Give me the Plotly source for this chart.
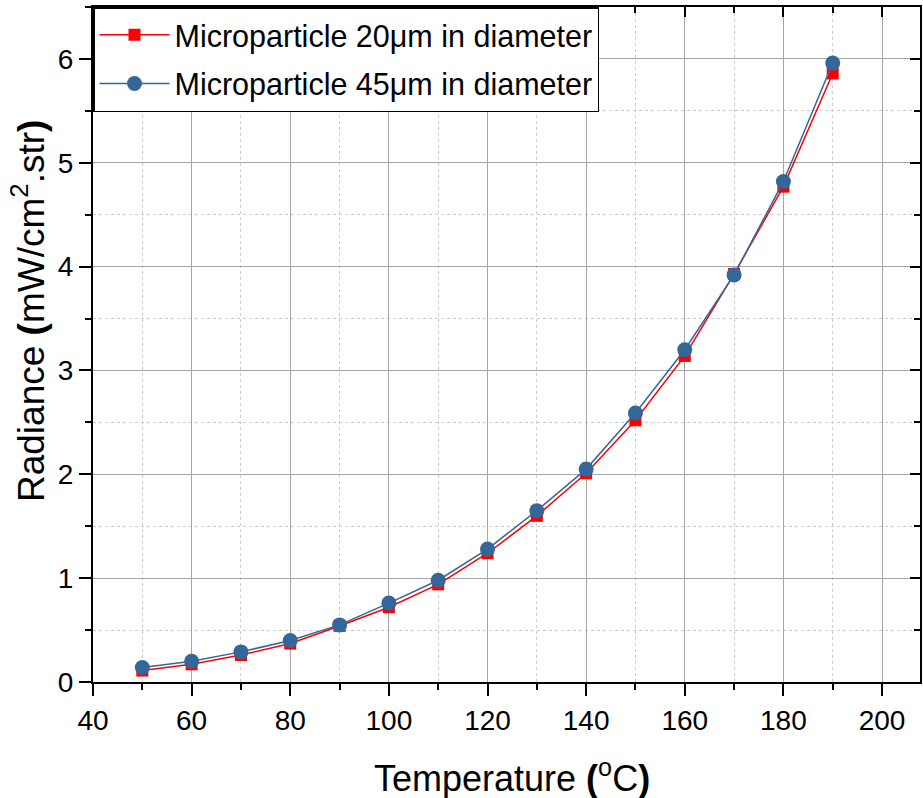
import plotly.graph_objects as go

temperature = [50, 60, 70, 80, 90, 100, 110, 120, 130, 140, 150, 160, 170, 180, 190]
radiance_20um = [0.11, 0.17, 0.26, 0.37, 0.54, 0.72, 0.94, 1.24, 1.60, 2.01, 2.52, 3.14, 3.93, 4.77, 5.86]
radiance_45um = [0.14, 0.20, 0.29, 0.40, 0.55, 0.76, 0.98, 1.28, 1.65, 2.05, 2.59, 3.20, 3.92, 4.82, 5.96]
name_20 = "Microparticle 20\u03bcm in diameter"
name_45 = "Microparticle 45\u03bcm in diameter"
x_title = "Temperature <b>(</b><sup>o</sup>C<b>)</b>"
y_title = "Radiance <b>(</b>mW/cm<sup>2</sup>.str<b>)</b>"

RED = "#ff0000"
BLUE = "#336699"
FONT = "Liberation Sans, Arial, sans-serif"

fig = go.Figure()
fig.add_trace(go.Scatter(x=temperature, y=radiance_20um, name=name_20, mode="lines+markers",
                         legendgroup="a",
                         line=dict(color=RED, width=1.5),
                         marker=dict(symbol="square", size=12, color=RED)))
fig.add_trace(go.Scatter(x=temperature, y=radiance_45um, name=name_45, mode="lines+markers",
                         legendgroup="b",
                         line=dict(color=BLUE, width=1.5),
                         marker=dict(symbol="circle", size=15, color=BLUE)))
# invisible trace for mirrored axes (top/right, inward ticks)
fig.add_trace(go.Scatter(x=temperature, y=radiance_45um, xaxis="x2", yaxis="y2", mode="markers",
                         marker=dict(opacity=0), showlegend=False, hoverinfo="skip"))

xr = [40, 207.7]
yr = [0, 6.5]
axis_common = dict(showline=True, linecolor="black", linewidth=2, zeroline=False, automargin=False,
                   tickfont=dict(family=FONT, size=28, color="black"),
                   ticks="outside", ticklen=12, tickwidth=2, tickcolor="black",
                   showgrid=True, gridcolor="#a6a6a6", gridwidth=1)

fig.update_layout(
    width=923, height=798,
    paper_bgcolor="white", plot_bgcolor="white",
    margin=dict(l=93, r=3, t=7, b=116),
    font=dict(family=FONT, color="black"),
    xaxis=dict(range=xr, dtick=20, tick0=0,
               minor=dict(dtick=10, ticks="outside", ticklen=6, tickwidth=2, tickcolor="black",
                          showgrid=True, gridcolor="#cccccc", griddash="dot", gridwidth=1),
               **axis_common),
    yaxis=dict(range=yr, dtick=1, tick0=0,
               minor=dict(dtick=0.5, ticks="outside", ticklen=6, tickwidth=2, tickcolor="black",
                          showgrid=True, gridcolor="#cccccc", griddash="dot", gridwidth=1),
               **axis_common),
    xaxis2=dict(range=xr, overlaying="x", side="top", showline=True, linecolor="black", linewidth=2,
                ticks="inside", ticklen=10, tickwidth=2, tickcolor="black", dtick=20, tick0=0,
                showticklabels=False, showgrid=False, zeroline=False, automargin=False,
                minor=dict(dtick=10, ticks="inside", ticklen=6, tickwidth=2, tickcolor="black")),
    yaxis2=dict(range=yr, overlaying="y", side="right", showline=True, linecolor="black", linewidth=2,
                ticks="inside", ticklen=10, tickwidth=2, tickcolor="black", dtick=1, tick0=0,
                showticklabels=False, showgrid=False, zeroline=False, automargin=False,
                minor=dict(dtick=0.5, ticks="inside", ticklen=6, tickwidth=2, tickcolor="black")),
    legend=dict(x=0, y=1, xanchor="left", yanchor="top", bgcolor="white",
                bordercolor="black", borderwidth=1.5, itemwidth=70,
                traceorder="grouped", tracegroupgap=6,
                font=dict(family=FONT, size=30.5, color="black")),
    showlegend=True,
    annotations=[
        dict(text=x_title, xref="paper", yref="paper", x=0.5067, y=-0.139,
             xanchor="center", yanchor="middle", showarrow=False,
             font=dict(family=FONT, size=36, color="black")),
        dict(text=y_title, xref="paper", yref="paper", x=-0.0786, y=0.5496,
             xanchor="center", yanchor="middle", showarrow=False, textangle=-90,
             font=dict(family=FONT, size=37, color="black")),
    ],
)

fig.write_html("out.html", config={"displayModeBar": False},
               post_script="document.body.style.margin='0';")
